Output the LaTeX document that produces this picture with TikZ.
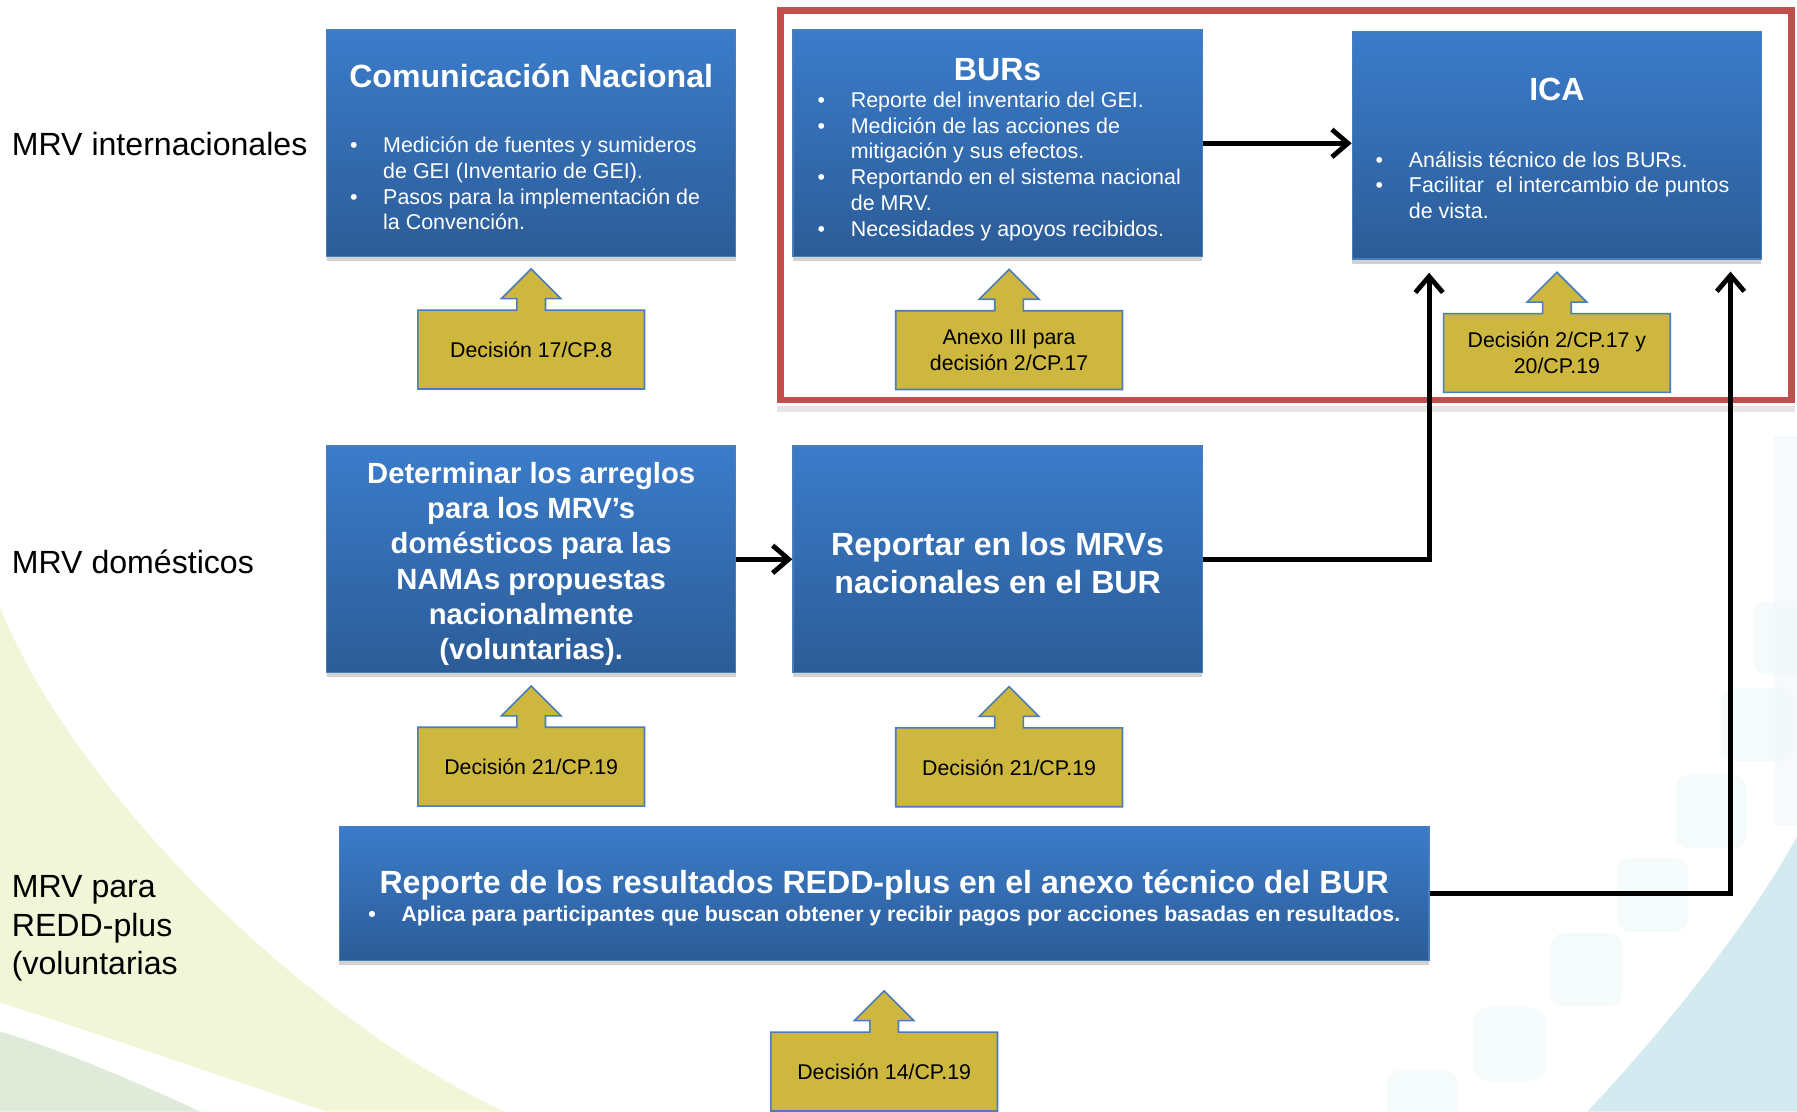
\documentclass[tikz,border=0pt]{standalone}
\usepackage{fontspec}
\setmainfont{Liberation Sans}
\usetikzlibrary{arrows.meta,shadows}
\definecolor{boxtop}{HTML}{3B7CCA}
\definecolor{boxbot}{HTML}{2C5C97}
\definecolor{boxline}{HTML}{4A7EBB}
\definecolor{yel}{HTML}{CDB73E}
\definecolor{redframe}{HTML}{C0504D}
\definecolor{bgyellow}{HTML}{F2F6D9}
\definecolor{bggreen}{HTML}{DFEBD8}
\definecolor{bgblue}{HTML}{D3EAF1}
\definecolor{bgsq}{HTML}{F3F9FB}
\pgfdeclarelayer{back}
\pgfdeclarelayer{mid}
\pgfsetlayers{back,mid,main}
\newcommand{\Bu}{\makebox[14.5pt][l]{•}}
\newcommand{\Co}{\hspace*{14.5pt}}
\newcommand{\calloutpath}[1]{(#1.south west) -- (#1.north west) -- ([xshift=-6.25pt]#1.north) -- ([xshift=-6.25pt,yshift=5pt]#1.north) -- ([xshift=-13pt,yshift=5pt]#1.north) -- ([yshift=18pt]#1.north) -- ([xshift=13pt,yshift=5pt]#1.north) -- ([xshift=6.25pt,yshift=5pt]#1.north) -- ([xshift=6.25pt]#1.north) -- (#1.north east) -- (#1.south east) -- cycle}
\begin{document}
\begin{tikzpicture}[x=0.5pt,y=-0.5pt,
  box/.style={rectangle, draw=boxline, line width=0.6pt, top color=boxtop, bottom color=boxbot,
    minimum width=178.5pt, minimum height=99pt, inner sep=0pt, text=white, align=center,
    drop shadow={shadow xshift=0pt, shadow yshift=-2pt, opacity=0.18, fill=black}},
  ttl/.style={text=white, font=\bfseries\fontsize{14}{16.5}\selectfont, align=center, inner sep=0pt},
  bl/.style={text=white, font=\fontsize{9.35}{11.25}\selectfont, align=left, inner sep=0pt, anchor=west},
  callbox/.style={rectangle, minimum width=98.5pt, minimum height=34pt, inner sep=0pt, align=center,
    font=\fontsize{9.3}{11.5}\selectfont, text=black},
  lab/.style={anchor=west, font=\fontsize{14}{16.75}\selectfont, align=left, inner sep=0pt, text=black},
  conn/.style={line width=2.1pt, -{Straight Barb[length=7pt,width=12pt]}}
]
\useasboundingbox (0,0) rectangle (1568,970);
% ---------- background ----------
\begin{pgfonlayer}{back}
\fill[white] (0,0) rectangle (1568,970);
\fill[bgyellow] (0,530) .. controls (60,680) and (250,880) .. (440,970) -- (0,970) -- cycle;
\fill[white] (0,875) .. controls (80,900) and (180,935) .. (285,970) -- (0,970) -- cycle;
\fill[bggreen] (0,900) .. controls (50,915) and (110,940) .. (175,970) -- (0,970) -- cycle;
\fill[bgblue] (1568,730) .. controls (1530,800) and (1460,890) .. (1385,970) -- (1568,970) -- cycle;
\fill[bgsq, opacity=0.7] (1548,380) rectangle (1568,720);
\foreach \xa/\ya in {1530/525,1502/600,1462/676,1411/749,1353/814,1286/879,1210/934}
  \fill[bgsq, opacity=0.8, rounded corners=6pt] (\xa,\ya) rectangle ++(62,64);
\end{pgfonlayer}
% ---------- labels ----------
\node[lab] (l1) at (10,126) {MRV internacionales};
\node[lab] (l2) at (10,490) {MRV domésticos};
\node[lab] (l3) at (10,810) {MRV para\\REDD-plus\\(voluntarias};
% ---------- main boxes ----------
\node[box] (cn) at (463.5,125) {};
\node[ttl] (cnt) at (463.5,66) {Comunicación Nacional};
\node[bl] (cnb) at (305,160) {\Bu Medición de fuentes y sumideros\\\Co de GEI (Inventario de GEI).\\\Bu Pasos para la implementación de\\\Co la Convención.};
\node[box] (bur) at (870.5,125) {};
\node[ttl] (burt) at (870.5,61) {BURs};
\node[bl] (burb) at (713,145) {\Bu Reporte del inventario del GEI.\\\Bu Medición de las acciones de\\\Co mitigación y sus efectos.\\\Bu Reportando en el sistema nacional\\\Co de MRV.\\\Bu Necesidades y apoyos recibidos.};
\node[box] (ica) at (1358.5,127) {};
\node[ttl] (icat) at (1358.5,78) {ICA};
\node[bl] (icab) at (1200,161.5) {\Bu Análisis técnico de los BURs.\\\Bu Facilitar\ \ el intercambio de puntos\\\Co de vista.};
\node[box] (det) at (463.5,488) {};
\node[ttl, font=\bfseries\fontsize{12.75}{15.4}\selectfont] (dett) at (463.5,492) {Determinar los arreglos\\para los MRV’s\\domésticos para las\\NAMAs propuestas\\nacionalmente\\(voluntarias).};
\node[box] (rep) at (870.5,488) {};
\node[ttl] (rept) at (870.5,491) {Reportar en los MRVs\\nacionales en el BUR};
\node[box, minimum width=475.5pt, minimum height=58.5pt] (redd) at (771.5,779.5) {};
\node[ttl] (reddt) at (771.5,772) {Reporte de los resultados REDD-plus en el anexo técnico del BUR};
\node[bl, font=\bfseries\fontsize{9.3}{11}\selectfont] (reddb) at (321,799) {\Bu Aplica para participantes que buscan obtener y recibir pagos por acciones basadas en resultados.};
% ---------- callouts ----------
\node[callbox] (c1) at (463.5,305) {\raisebox{-1pt}{Decisión 17/CP.8}};
\node[callbox] (c2) at (880.5,305.5) {Anexo III para\\decisión 2/CP.17};
\node[callbox] (c3) at (1358.5,308) {Decisión 2/CP.17 y\\20/CP.19};
\node[callbox] (c4) at (463.5,669) {\raisebox{-1pt}{Decisión 21/CP.19}};
\node[callbox] (c5) at (880.5,669.5) {\raisebox{-1pt}{Decisión 21/CP.19}};
\node[callbox] (c6) at (771.5,935) {\raisebox{-1pt}{Decisión 14/CP.19}};
% red group frame
\node[draw=redframe, line width=3pt, minimum width=441pt, minimum height=170pt, inner sep=0pt] (grp) at (1122,179) {};
\begin{pgfonlayer}{mid}
\draw[black!10, line width=2.5pt] ([yshift=-2.5pt]grp.south west) -- ([yshift=-2.5pt]grp.south east);
\foreach \n in {c1,c2,c3,c4,c5,c6} {
  \fill[black, opacity=0.18, yshift=-2pt] \calloutpath{\n};
  \filldraw[fill=yel, draw=boxline, line width=0.7pt] \calloutpath{\n};
}
\end{pgfonlayer}
% ---------- connectors ----------
\coordinate (t1) at (1247,238);
\coordinate (t2) at (1510,237);
\draw[conn] (bur.east) -- (bur.east -| ica.west);
\draw[conn] (det.east) -- (rep.west);
\draw[conn] (rep.east) -| (t1);
\draw[conn] (redd.east) -| (t2);
\end{tikzpicture}
\end{document}
